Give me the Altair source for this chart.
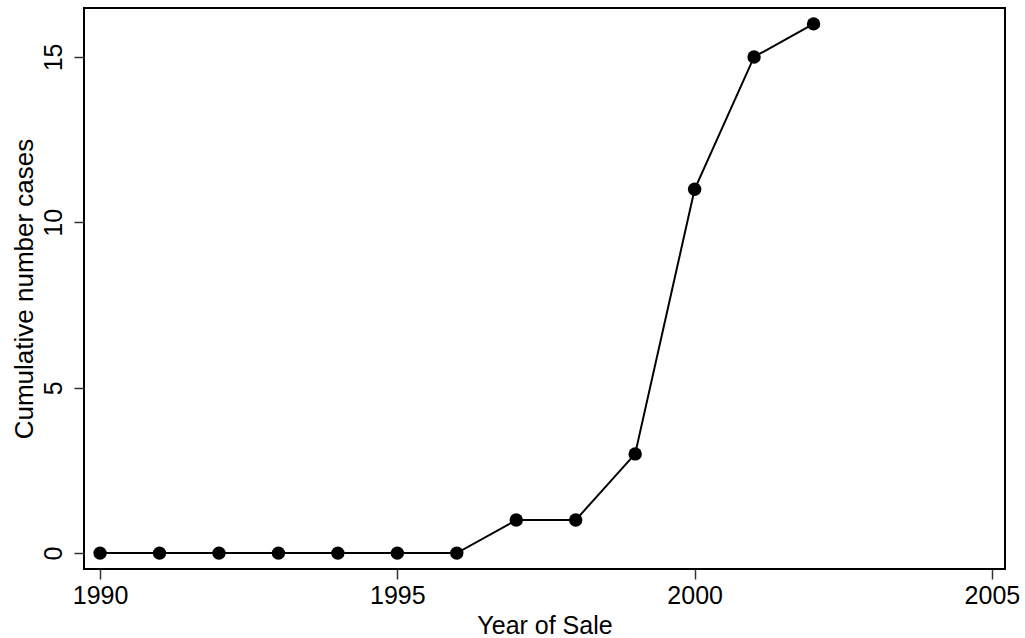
import altair as alt
import pandas as pd

years = [1990, 1991, 1992, 1993, 1994, 1995, 1996, 1997, 1998, 1999, 2000, 2001, 2002]
cases = [0, 0, 0, 0, 0, 0, 0, 1, 1, 3, 11, 15, 16]
x_ticks = [1990, 1995, 2000, 2005]
y_ticks = [0, 5, 10, 15]

df = pd.DataFrame({"year": years, "cases": cases})

FONT = "Liberation Sans"

x = alt.X("year:Q",
          scale=alt.Scale(domain=[1989.73, 2005.22], nice=False, zero=False),
          axis=alt.Axis(values=x_ticks, format="d", title="Year of Sale",
                        labelAngle=0, tickSize=10, tickColor="#333", tickWidth=1.5,
                        grid=False, domain=False, labelFontSize=25, titleFontSize=25,
                        labelFont=FONT, titleFont=FONT, labelColor="black", titleColor="black",
                        labelPadding=4, titleFontWeight="normal",
                        titleY=56, titleBaseline="middle", labelFlush=False, labelOverlap=False))
y = alt.Y("cases:Q",
          scale=alt.Scale(domain=[-0.48, 16.48], nice=False, zero=False),
          axis=alt.Axis(values=y_ticks, format="d", title="Cumulative number cases",
                        labelAngle=270, labelAlign="center", labelBaseline="bottom",
                        tickSize=10, tickColor="#333", tickWidth=1.5,
                        grid=False, domain=False, labelFontSize=25, titleFontSize=26,
                        labelFont=FONT, titleFont=FONT, labelColor="black", titleColor="black",
                        labelPadding=8, titleFontWeight="normal",
                        titleX=-60, titleBaseline="middle", titleAngle=270,
                        labelFlush=False, labelOverlap=False))

line = alt.Chart(df).mark_line(color="black", strokeWidth=2).encode(x=x, y=y)
pts = alt.Chart(df).mark_circle(color="black", size=180, opacity=1).encode(x=x, y=y)

chart = (line + pts).properties(
    width=921, height=561,
    autosize=alt.AutoSizeParams(type="none"),
    padding={"left": 84, "top": 8, "right": 20, "bottom": 69},
    background="white",
).configure_view(stroke="black", strokeWidth=2, strokeOpacity=1)

chart.save("out.html", embed_options={"renderer": "svg", "actions": False})
